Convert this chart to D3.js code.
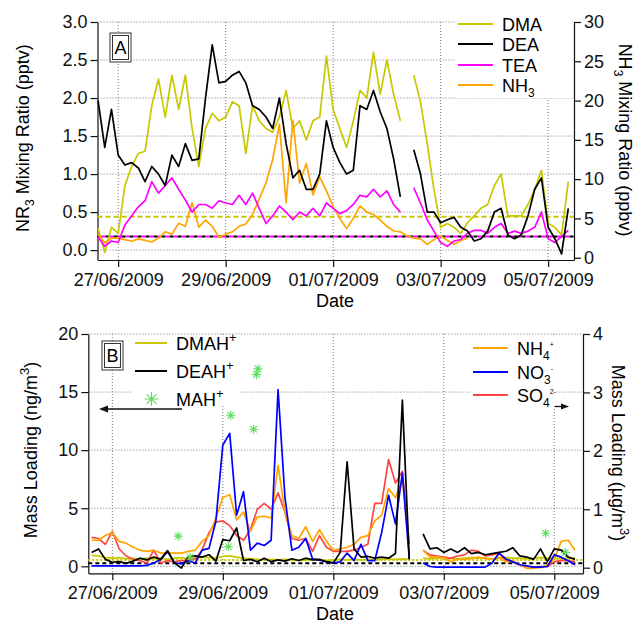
<!DOCTYPE html>
<html lang="en">
<head>
<meta charset="UTF-8"/>
<title>Amines, NH3 and aerosol mass loadings</title>
<script src="https://d3js.org/d3.v7.min.js"></script>
<style>
    body { margin: 0; background: #fff; }
    svg { display: block; font-family: "Liberation Sans", Arial, sans-serif; }
</style>
</head>
<body>
<script>
    //all series are sampled every 3 hours from 26/06/2009 15:00
    var startTime = "2009-06-26 15:00";
    var stepHours = 3;

    //date ticks shared by both panels
    var tickDates = ["2009-06-27", "2009-06-29", "2009-07-01", "2009-07-03", "2009-07-05"];

    //panel A - gas phase, amines in pptv (left), NH3 in ppbv (right)
    var dma = [0.29, -0.03, 0.3, 0.22, 0.85, 1.1, 1.27, 1.3, 1.9, 2.25,
        1.75, 2.3, 1.85, 2.3, 1.6, 1.1, 1.6, 1.8, 1.7, 1.75,
        1.95, 1.9, 1.27, 1.9, 1.7, 1.6, 1.55, 1.75, 2.1, 1.6,
        1.7, 1.45, 1.7, 1.75, 2.55, 1.85, 1.6, 1.35, 1.7, 2.1,
        2.0, 2.6, 2.05, 2.5, 2.05, 1.7, null, 2.3, 1.95, 1.4,
        0.8, 0.3, 0.35, 0.3, 0.22, 0.36, 0.45, 0.55, 0.6, 0.85,
        1.0, 0.45, 0.45, 0.45, 0.6, 0.8, 1.05, 0.35, 0.3, 0.2, 0.9];
    var dea = [1.97, 1.35, 1.85, 1.25, 1.12, 1.15, 1.08, 0.9, 1.1, 1.0,
        0.85, 1.25, 1.1, 1.4, 1.18, 1.2, 2.0, 2.7, 2.2, 2.22,
        2.3, 2.35, 2.2, 1.9, 1.85, 1.75, 1.6, 2.0, 1.4, 0.95,
        1.05, 0.8, 0.8, 1.0, 1.7, 1.35, 1.15, 1.0, 1.05, 1.9,
        1.85, 2.1, 1.82, 1.6, 1.2, 0.7, null, 1.32, 1.0, 0.5,
        0.5, 0.36, 0.4, 0.43, 0.3, 0.25, 0.12, 0.15, 0.25, 0.5,
        0.55, 0.2, 0.15, 0.2, 0.45, 0.8, 0.95, 0.3, 0.15, -0.05, 0.55];
    var tea = [0.17, 0.05, 0.12, 0.1, 0.33, 0.45, 0.57, 0.65, 0.9, 0.75,
        0.85, 0.95, 0.8, 0.66, 0.5, 0.6, 0.6, 0.55, 0.65, 0.62,
        0.6, 0.72, 0.6, 0.75, 0.55, 0.35, 0.45, 0.58, 0.5, 0.4,
        0.5, 0.45, 0.55, 0.45, 0.62, 0.55, 0.48, 0.52, 0.6, 0.72,
        0.7, 0.8, 0.7, 0.78, 0.6, 0.5, null, 0.82, 0.62, 0.4,
        0.25, 0.1, 0.05, 0.12, 0.14, 0.22, 0.26, 0.26, 0.22, 0.3,
        0.35, 0.22, 0.25, 0.22, 0.25, 0.3, 0.5, 0.15, 0.1, 0.18, 0.26];
    var nh3 = [3.0, 1.9, 2.5, 2.5, 2.3, 2.1, 2.4, 2.2, 2.0, 2.5,
        3.3, 3.0, 4.4, 4.0, 7.0, 3.9, 4.8, 4.0, 2.6, 3.0,
        3.3, 4.0, 4.3, 5.5, 7.5, 9.5, 12.5, 17.0, 7.0, 17.5,
        9.5, 12.0, 8.0, 10.3, 8.5, 6.5, 5.0, 3.7, 5.0, 6.6,
        5.8, 5.5, 4.8, 4.0, 3.4, 3.3, 2.8, 2.5, 2.4, 1.7,
        2.3, 2.8, 2.2, 1.7, 2.2, 2.5];
    var dmaLimit = 0.44;
    var deaLimit = 0.18;

    //panel B - particle phase, aminium in ng/m3 (left), inorganics in ug/m3 (right)
    var dmah = [0.95, 0.9, 0.75, 0.7, 0.75, 0.65, 0.7, 0.6, 0.7, 0.65,
        0.7, 0.6, 0.7, 0.75, 0.65, 0.7, 0.8, 0.75, 0.7, 0.85,
        0.9, 0.8, 0.7, 0.65, 0.6, 0.55, 0.6, 0.55, 0.6, 0.55,
        0.5, 0.55, 0.6, 0.55, 0.5, 0.55, 0.6, 0.55, 0.6, 0.55,
        0.6, 0.55, 0.6, 0.65, 0.6, 0.65, 0.6, null, 0.7, 0.65,
        0.7, 0.75, 0.7, 0.65, 0.7, 0.75, 0.7, 0.7, 0.65, 0.7,
        0.75, 0.7, 0.7, 0.65, 0.7, 0.75, 0.7, 0.7, 0.65, 0.7, 0.7];
    var deah = [1.2, 1.5, 0.6, 0.35, 0.4, 0.25, 0.45, 0.7, 0.55, 0.8,
        0.6, 1.35, 0.3, -0.15, 0.8, 0.9, 0.8, 1.0, 0.45, 2.3,
        2.2, 3.3, 0.5, 0.6, 0.4, 0.7, 0.4, 0.55, 0.45, 0.65,
        0.5, 0.7, 0.55, 0.6, 0.4, 0.3, 1.2, 9.0, 1.5, 0.8,
        0.85, 0.7, 0.8, 0.7, 1.1, 14.3, 0.6, null, 2.8, 1.5,
        1.6, 1.2, 1.5, 1.2, 1.6, 1.1, 1.2, 1.0, 1.1, 1.2,
        1.3, 1.6, 0.9, 0.8, 0.6, 1.5, 0.4, 1.5, 1.4, 0.8, 0.6];
    var mahTimes = ["2009-06-28 04:40", "2009-06-28 09:45", "2009-06-29 02:25", "2009-06-29 03:25",
        "2009-06-29 13:25", "2009-06-29 14:35", "2009-06-29 15:15", "2009-07-04 20:15", "2009-07-05 04:50"];
    var mah = [2.6, 0.8, 1.7, 13.0, 11.8, 16.5, 17.0, 2.85, 1.2];
    var nh4 = [0.47, 0.47, 0.55, 0.6, 0.45, 0.42, 0.35, 0.3, 0.28, 0.3,
        0.25, 0.25, 0.25, 0.25, 0.28, 0.3, 0.45, 0.55, 0.85, 1.2,
        1.25, 0.82, 0.95, 0.62, 0.87, 0.88, 0.85, 1.75, 0.95, 0.55,
        0.5, 0.7, 0.45, 0.65, 0.45, 0.3, 0.32, 0.35, 0.4, 0.52,
        0.55, 0.8, 0.9, 1.35, 1.2, 1.5, 0.45, null, 0.3, 0.18,
        0.18, 0.17, 0.1, 0.15, 0.14, 0.16, 0.18, 0.16, 0.14, 0.18,
        0.1, 0.12, 0.05, -0.01, -0.01, 0.0, 0.05, 0.15, 0.45, 0.47, 0.3];
    var no3 = [0.03, 0.03, 0.03, 0.03, 0.03, 0.03, 0.03, 0.03, 0.04, 0.08,
        0.14, 0.28, 0.08, 0.07, 0.12, 0.08, 0.3, 0.33, 0.8, 2.1,
        2.3, 0.9, 1.3, 0.3, 0.42, 0.38, 0.47, 3.05, 1.2, 0.3,
        0.35, 0.5, 0.15, 0.13, 0.1, 0.08, 0.1, 0.25, 0.12, 0.4,
        0.12, 0.12, 0.6, 1.24, 0.75, 1.62, 0.15, null, 0.08, 0.02,
        0.01, 0.01, 0.01, 0.01, 0.01, 0.01, 0.01, 0.01, 0.08, 0.25,
        0.15, 0.1, 0.05, 0.03, 0.01, 0.01, 0.02, 0.22, 0.18, 0.12, 0.05];
    var so4 = [0.52, 0.5, 0.4, 0.62, 0.32, 0.2, 0.14, 0.12, 0.08, 0.3,
        0.08, 0.12, 0.1, 0.12, 0.12, 0.15, 0.3, 0.6, 0.78, 0.8,
        0.72, 0.55, 0.47, 0.65, 1.0, 1.1, 1.0, 1.28, 0.95, 0.5,
        0.47, 0.5, 0.28, 0.55, 0.35, 0.28, 0.28, 0.28, 0.3, 0.35,
        0.4, 1.1, 1.1, 1.85, 1.45, 1.65, 0.4, null, 0.3, 0.22,
        0.2, 0.18, 0.16, 0.2, 0.22, 0.3, 0.28, 0.2, 0.22, 0.25,
        0.12, 0.1, 0.05, 0.02, 0.01, 0.02, 0.02, 0.1, 0.12, 0.12, 0.1];
    var dmahLimit = 0.55;
    var deahLimit = 0.26;

    //colours
    var cDMA = "#c8c800", cDEA = "#000", cTEA = "#ff00ff", cNH = "#ffa500";
    var cNO3 = "#0000ff", cSO4 = "#ff4444", cMAH = "#5edc5e";

    var w = 638, h = 623;
    var parseTime = d3.timeParse("%Y-%m-%d %H:%M");
    var parseDay = d3.timeParse("%Y-%m-%d");
    var t0 = parseTime(startTime);

    var svg = d3.select("body").append("svg")
        .attr("width", w)
        .attr("height", h);

    //turn a value list into time/value points
    function toPoints(values) {
        return values.map(function (v, i) {
            return { t: d3.timeHour.offset(t0, i * stepHours), v: v };
        });
    }

    //text with sub/superscripts, parts = [[text, "sub"|"sup", size]]
    function richText(g, parts, size) {
        var t = g.append("text").attr("font-size", size + "px");
        var shift = 0;
        parts.forEach(function (p) {
            var target = p[1] === "sub" ? size * 0.3 : p[1] === "sup" ? -size * 0.42 : 0;
            var fs = p[1] ? (p[2] || size * 0.65) : size;
            t.append("tspan").attr("dy", target - shift).attr("font-size", fs + "px").text(p[0]);
            shift = target;
        });
        return t;
    }

    //8 point asterisk used for MAH+
    function starPath(r) {
        var a = r * Math.SQRT1_2;
        return "M" + (-r) + ",0L" + r + ",0M0," + (-r) + "L0," + r +
            "M" + (-a) + "," + (-a) + "L" + a + "," + a +
            "M" + (-a) + "," + a + "L" + a + "," + (-a);
    }

    function drawPanel(p) {
        var x = d3.scaleTime().domain(p.xDomain.map(parseTime)).range([p.left, p.right]);
        var yL = d3.scaleLinear().domain(p.yLeft).range([p.bottom, p.top]);
        var yR = d3.scaleLinear().domain(p.yRight).range([p.bottom, p.top]);
        var g = svg.append("g");

        //dotted grid
        g.selectAll(".hgrid").data(p.leftTicks).enter().append("line")
            .attr("x1", p.left).attr("x2", p.right)
            .attr("y1", function (d) { return yL(d); })
            .attr("y2", function (d) { return yL(d); })
            .attr("stroke", "#777").attr("stroke-width", 1).attr("stroke-dasharray", "1,2");
        g.selectAll(".vgrid").data(tickDates).enter().append("line")
            .attr("x1", function (d) { return x(parseDay(d)); })
            .attr("x2", function (d) { return x(parseDay(d)); })
            .attr("y1", p.top).attr("y2", p.bottom)
            .attr("stroke", "#777").attr("stroke-width", 1).attr("stroke-dasharray", "1,2");

        //white boxes behind the legends
        p.boxes.forEach(function (b) {
            g.append("rect").attr("x", b[0]).attr("y", b[1]).attr("width", b[2]).attr("height", b[3]).attr("fill", "#fff");
        });

        //axes
        var fmtDate = d3.timeFormat("%d/%m/%Y");
        var ax = g.append("g").attr("transform", "translate(0," + p.bottom + ")")
            .call(d3.axisBottom(x).tickValues(tickDates.map(parseDay)).tickFormat(fmtDate)
                .tickSize(7).tickSizeOuter(0).tickPadding(6));
        var al = g.append("g").attr("transform", "translate(" + p.left + ",0)")
            .call(d3.axisLeft(yL).tickValues(p.leftTicks).tickFormat(p.leftFormat)
                .tickSize(7).tickSizeOuter(0).tickPadding(3));
        var ar = g.append("g").attr("transform", "translate(" + p.right + ",0)")
            .call(d3.axisRight(yR).tickValues(p.rightTicks).tickFormat(d3.format("d"))
                .tickSize(7).tickSizeOuter(0).tickPadding(3));
        [ax, al, ar].forEach(function (a) {
            a.selectAll("text").attr("font-size", "18px").attr("font-family", null).attr("fill", "#111");
            a.selectAll("line, path").attr("stroke", "#111").attr("stroke-width", 1.2);
        });
        g.append("text").attr("x", 335).attr("y", p.bottom + 47).attr("text-anchor", "middle")
            .attr("font-size", "18px").text("Date");

        return { g: g, x: x, yL: yL, yR: yR };
    }

    function addLine(panel, values, y, color, width, dash) {
        var line = d3.line()
            .defined(function (d) { return d.v !== null && d.v !== undefined; })
            .x(function (d) { return panel.x(d.t); })
            .y(function (d) { return y(d.v); });
        panel.g.append("path").datum(toPoints(values))
            .attr("d", line)
            .attr("fill", "none")
            .attr("stroke", color)
            .attr("stroke-width", width || 1.7)
            .attr("stroke-linejoin", "round");
    }

    function addLimit(panel, value, y, color, dash, offset) {
        var r = panel.x.range();
        panel.g.append("line")
            .attr("x1", r[0]).attr("x2", r[1])
            .attr("y1", y(value)).attr("y2", y(value))
            .attr("stroke", color).attr("stroke-width", 2)
            .attr("stroke-dasharray", dash).attr("stroke-dashoffset", offset || 0);
    }

    function letterBox(g, x, y, label) {
        g.append("rect").attr("x", x).attr("y", y).attr("width", 21).attr("height", 29)
            .attr("fill", "#fff").attr("stroke", "#333").attr("stroke-width", 1);
        g.append("rect").attr("x", x + 2.5).attr("y", y + 2.5).attr("width", 16).attr("height", 24)
            .attr("fill", "none").attr("stroke", "#333").attr("stroke-width", 1);
        g.append("text").attr("x", x + 10.5).attr("y", y + 21).attr("text-anchor", "middle")
            .attr("font-size", "18px").text(label);
    }

    function legendRow(g, x1, x2, y, color, parts) {
        g.append("line").attr("x1", x1).attr("x2", x2).attr("y1", y).attr("y2", y)
            .attr("stroke", color).attr("stroke-width", 2);
        richText(g, parts, 18).attr("x", x2 + 9).attr("y", y + 6.5);
    }

    //---------------- panel A ----------------
    var A = drawPanel({
        left: 97.5, right: 574, top: 22, bottom: 260,
        xDomain: ["2009-06-26 14:46", "2009-07-05 11:33"],
        yLeft: [-0.13, 3.0], yRight: [-0.29, 30],
        leftTicks: [0, 0.5, 1, 1.5, 2, 2.5, 3], leftFormat: d3.format(".1f"),
        rightTicks: [0, 5, 10, 15, 20, 25, 30],
        boxes: [[455, 14, 117, 84]]
    });

    addLimit(A, dmaLimit, A.yL, cDMA, "5,3");
    addLimit(A, deaLimit, A.yL, cDEA, "4,4");
    addLimit(A, deaLimit, A.yL, cTEA, "4,4", 4);
    addLine(A, dma, A.yL, cDMA);
    addLine(A, nh3, A.yR, cNH);
    addLine(A, tea, A.yL, cTEA);
    addLine(A, dea, A.yL, cDEA);

    letterBox(A.g, 110, 33, "A");
    legendRow(A.g, 458, 493, 24, cDMA, [["DMA"]]);
    legendRow(A.g, 458, 493, 44, cDEA, [["DEA"]]);
    legendRow(A.g, 458, 493, 65, cTEA, [["TEA"]]);
    legendRow(A.g, 458, 493, 85, cNH, [["NH"], ["3", "sub", 12]]);

    richText(A.g, [["NR"], ["3", "sub", 12], [" Mixing Ratio (pptv)"]], 18)
        .attr("text-anchor", "middle").attr("transform", "translate(28.5,138) rotate(-90)");
    richText(A.g, [["NH"], ["3", "sub", 12], [" Mixing Ratio (ppbv)"]], 18)
        .attr("text-anchor", "middle").attr("transform", "translate(619,140) rotate(90)");

    //---------------- panel B ----------------
    var B = drawPanel({
        left: 88.3, right: 583, top: 334, bottom: 573.3,
        xDomain: ["2009-06-26 13:34", "2009-07-05 12:28"],
        yLeft: [-0.6, 20], yRight: [-0.096, 4],
        leftTicks: [0, 5, 10, 15, 20], leftFormat: d3.format("d"),
        rightTicks: [0, 1, 2, 3, 4],
        boxes: [[133, 335, 107, 71], [470, 337, 86, 67]]
    });

    addLimit(B, dmahLimit, B.yL, cDMA, "2,2");
    addLimit(B, deahLimit, B.yL, cDEA, "4,3");
    addLine(B, dmah, B.yL, cDMA);
    addLine(B, so4, B.yR, cSO4);
    addLine(B, nh4, B.yR, cNH);
    addLine(B, no3, B.yR, cNO3);
    addLine(B, deah, B.yL, cDEA);

    B.g.selectAll(".mah").data(mah).enter().append("path")
        .attr("d", starPath(4.5))
        .attr("transform", function (d, i) {
            return "translate(" + B.x(parseTime(mahTimes[i])) + "," + B.yL(d) + ")";
        })
        .attr("fill", "none").attr("stroke", cMAH).attr("stroke-width", 1.1);

    letterBox(B.g, 102, 341, "B");
    legendRow(B.g, 135, 167, 343, cDMA, [["DMAH"], ["+", "sup", 13]]);
    legendRow(B.g, 135, 167, 371, cDEA, [["DEAH"], ["+", "sup", 13]]);
    B.g.append("path").attr("d", starPath(7))
        .attr("transform", "translate(151.5,399)")
        .attr("fill", "none").attr("stroke", cMAH).attr("stroke-width", 1.2);
    richText(B.g, [["MAH"], ["+", "sup", 13]], 18).attr("x", 176).attr("y", 405.5);

    legendRow(B.g, 473, 508, 348, cNH, [["NH"], ["4", "sub", 12], ["+", "sup", 7]]);
    legendRow(B.g, 473, 508, 372, cNO3, [["NO"], ["3", "sub", 12], ["-", "sup", 7]]);
    legendRow(B.g, 473, 508, 395, cSO4, [["SO"], ["4", "sub", 12], ["2-", "sup", 7]]);

    //arrows pointing to the axis each group uses
    B.g.append("line").attr("x1", 182).attr("x2", 106).attr("y1", 409).attr("y2", 409)
        .attr("stroke", "#111").attr("stroke-width", 1.3);
    B.g.append("path").attr("d", "M99,409L108,405.5L108,412.5Z").attr("fill", "#111");
    B.g.append("line").attr("x1", 555).attr("x2", 563).attr("y1", 406.5).attr("y2", 406.5)
        .attr("stroke", "#111").attr("stroke-width", 1.3);
    B.g.append("path").attr("d", "M569,406.5L561,403.5L561,409.5Z").attr("fill", "#111");

    richText(B.g, [["Mass Loading (ng/m"], ["3", "sup", 13], [")"]], 18)
        .attr("text-anchor", "middle").attr("transform", "translate(36.5,450) rotate(-90)");
    richText(B.g, [["Mass Loading (\u00b5g/m"], ["3", "sup", 13], [")"]], 18)
        .attr("text-anchor", "middle").attr("transform", "translate(612,453) rotate(90)");
</script>
</body>
</html>
